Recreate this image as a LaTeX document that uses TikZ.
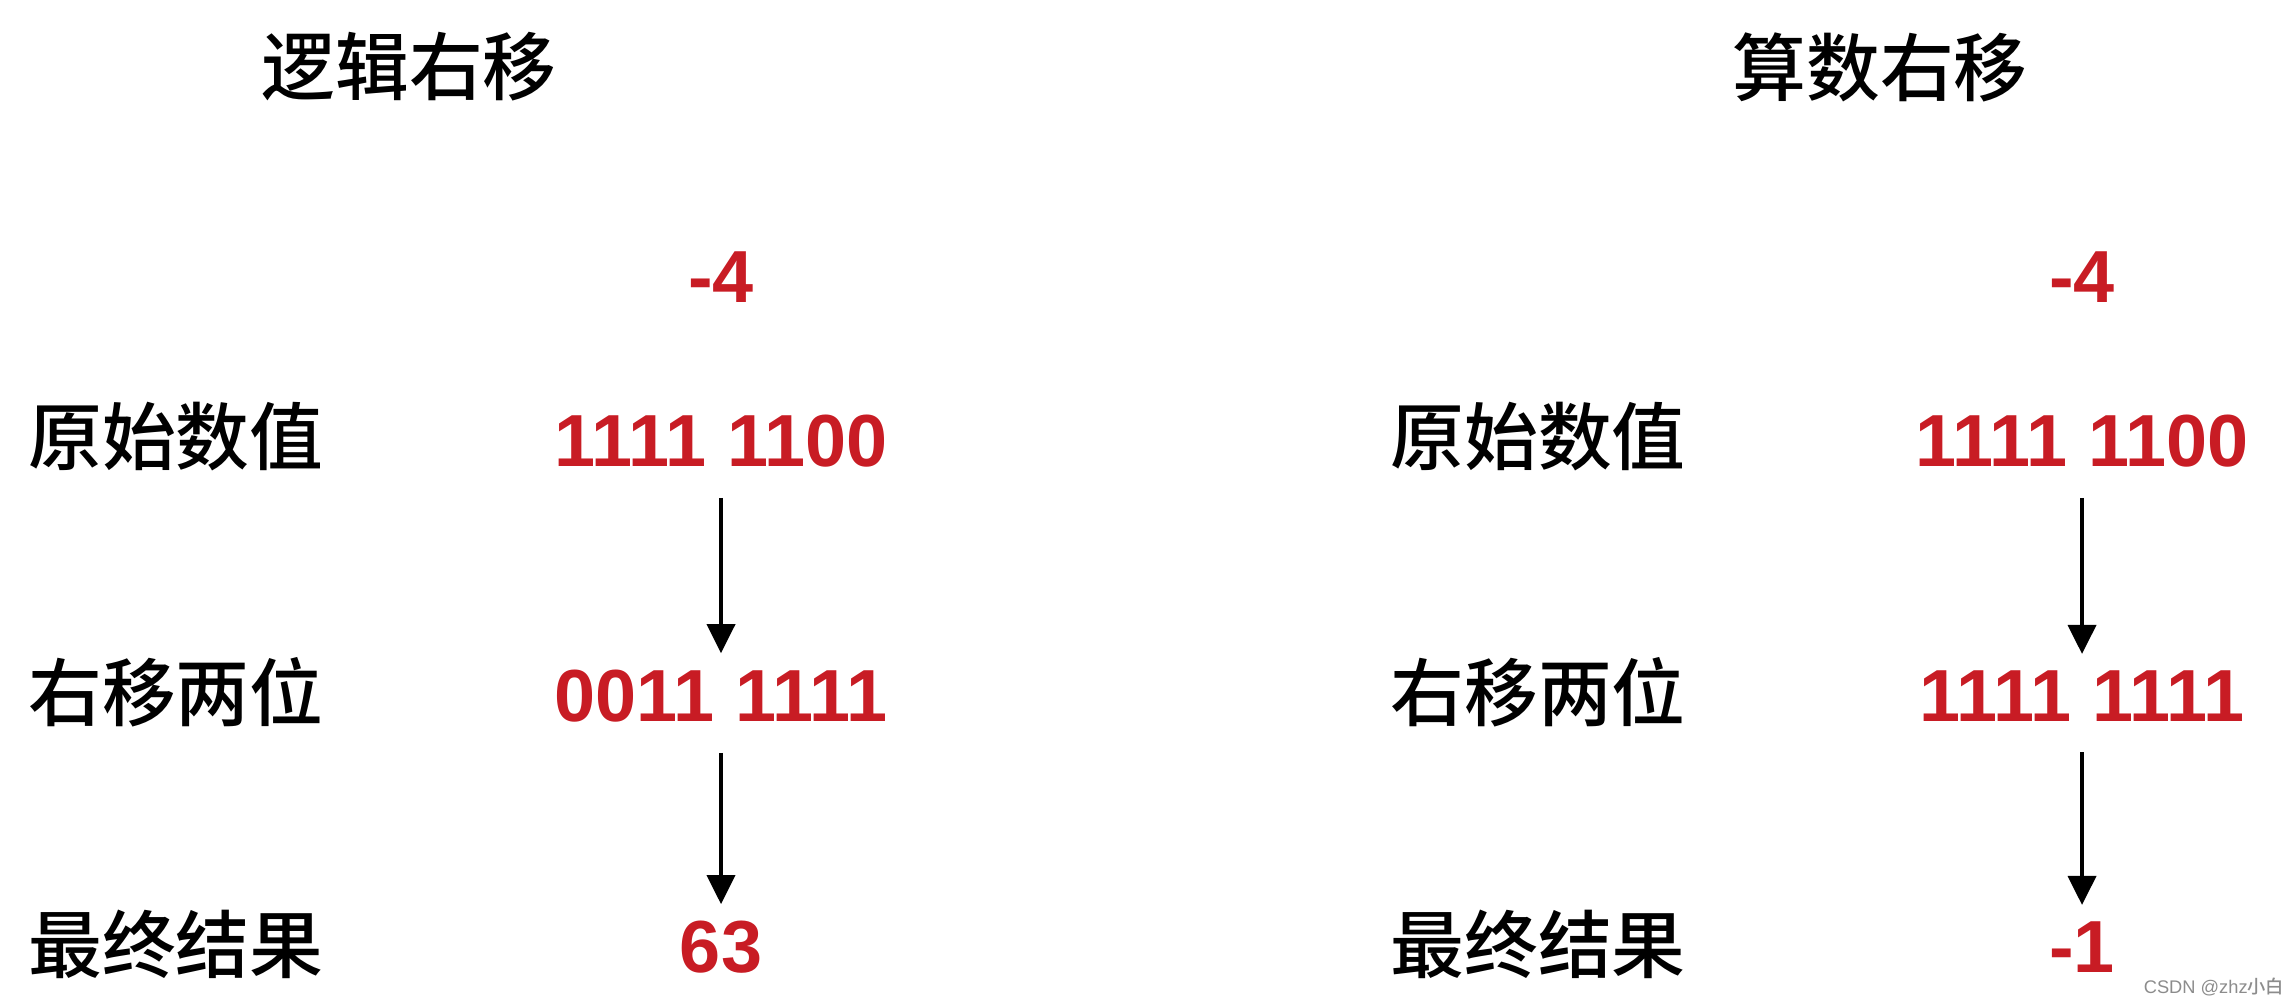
\documentclass[tikz,border=0pt]{standalone}
\usepackage{fontspec}
\setmainfont{Liberation Sans}
\newfontfamily\cjk{Noto Sans CJK SC Medium}
\usetikzlibrary{arrows.meta}
\definecolor{numred}{RGB}{200,28,36}

\begin{document}
\begin{tikzpicture}[
  x=0.1mm,
  y=-0.1mm,
  >={Triangle[width=2.8mm,length=2.9mm]},
  txt/.style={inner sep=0pt, font=\cjk\fontsize{21}{25}\selectfont},
  num/.style={inner sep=0pt, text=numred, font=\bfseries\fontsize{21}{25}\selectfont},
  flow/.style={->, line width=1.1pt, shorten <=3mm, shorten >=1.6mm},
  wm/.style={inner sep=0pt, text=black!45, font=\fontsize{5.2}{6}\selectfont}
]
  \useasboundingbox (0,0) rectangle (2288,1006);

  % logical shift
  \node[txt] (ltitle) at (409, 67) {逻辑右移};
  \node[num] (l0) at (721, 277) {-4};
  \node[txt] (lorig) at (176, 437) {原始数值};
  \node[num] (l1) at (721, 441) {1111 1100};
  \node[txt] (lshift) at (176, 692) {右移两位};
  \node[num] (l2) at (721, 696) {0011 1111};
  \node[txt] (lres) at (176, 944) {最终结果};
  \node[num] (l3) at (721, 947) {63};

  % arithmetic shift
  \node[txt] (rtitle) at (1880, 67) {算数右移};
  \node[num] (r0) at (2082, 277) {-4};
  \node[txt] (rorig) at (1538, 437) {原始数值};
  \node[num] (r1) at (2082, 441) {1111 1100};
  \node[txt] (rshift) at (1538, 692) {右移两位};
  \node[num] (r2) at (2082, 696) {1111 1111};
  \node[txt] (rres) at (1538, 944) {最终结果};
  \node[num] (r3) at (2082, 947) {-1};

  \draw[flow] (l1) -- (l2);
  \draw[flow] (l2) -- (l3);
  \draw[flow] (r1) -- (r2);
  \draw[flow] (r2) -- (r3);

  \node[wm] (wmark) at (2214, 987) {CSDN @zhz{\cjk 小白}};
\end{tikzpicture}
\end{document}
